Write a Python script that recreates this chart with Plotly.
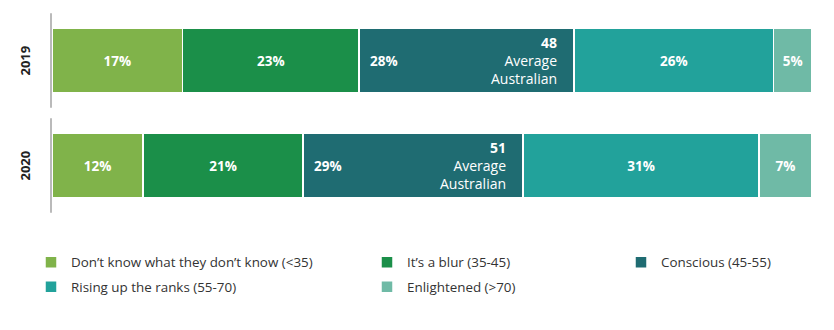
import plotly.graph_objects as go

years = ["2019", "2020"]
categories = [
    "Don’t know what they don’t know (<35)",
    "It’s a blur (35-45)",
    "Conscious (45-55)",
    "Rising up the ranks (55-70)",
    "Enlightened (>70)",
]
values = {
    "Don’t know what they don’t know (<35)": [17, 12],
    "It’s a blur (35-45)": [23, 21],
    "Conscious (45-55)": [28, 29],
    "Rising up the ranks (55-70)": [26, 31],
    "Enlightened (>70)": [5, 7],
}
avg_scores = [48, 51]
avg_label = "Average<br>Australian"

colors = ["#80b34a", "#1b8f49", "#1f6c72", "#22a29b", "#6fbaa6"]
legend_ids = ["legend", "legend2", "legend3", "legend", "legend2"]
FONT = "Open Sans"

fig = go.Figure()
for i, cat in enumerate(categories):
    is_conscious = (i == 2)
    fig.add_trace(go.Bar(
        y=years, x=values[cat], orientation="h", name=cat,
        marker=dict(color=colors[i], line=dict(color="white", width=1.5)),
        text=None if is_conscious else [f"<b>{v}%</b>" for v in values[cat]],
        textposition="inside", insidetextanchor="middle", textangle=0,
        textfont=dict(family=FONT, size=13.5, color="white"),
        constraintext="none",
        legend=legend_ids[i], legendgroup=cat,
        hoverinfo="skip",
    ))

annotations = []
for j, yr in enumerate(years):
    total = sum(values[c][j] for c in categories)
    start = sum(values[c][j] for c in categories[:2]) / total * 100
    end = start + values[categories[2]][j] / total * 100
    annotations.append(dict(
        x=start, y=j, xref="x", yref="y", xanchor="left", yanchor="middle",
        xshift=9, text=f"<b>{values[categories[2]][j]}%</b>", showarrow=False,
        font=dict(family=FONT, size=13.5, color="white"),
    ))
    annotations.append(dict(
        x=end, y=j, xref="x", yref="y", xanchor="right", yanchor="middle",
        xshift=-15, align="right",
        text=f"<b>{avg_scores[j]}</b><br>{avg_label}", showarrow=False,
        font=dict(family=FONT, size=14, color="white"),
    ))
    annotations.append(dict(
        x=0, y=j, xref="paper", yref="y", xanchor="center", yanchor="middle",
        xshift=-28, text=f"<b>{yr}</b>", textangle=-90, showarrow=False,
        font=dict(family=FONT, size=13, color="#222222"),
    ))

shapes = []
for j, yr in enumerate(years):
    shapes.append(dict(
        type="line", xref="paper", yref="y", xsizemode="pixel", xanchor=0,
        x0=-1, x1=-1, y0=j - 0.45, y1=j + 0.45,
        line=dict(color="#8c8c8c", width=1.2),
    ))

leg_common = dict(
    orientation="v", xref="container", yref="container", xanchor="left",
    yanchor="top", font=dict(family=FONT, size=13.4, color="#333333"),
    bgcolor="rgba(0,0,0,0)", tracegroupgap=4, traceorder="grouped",
)
ly = 1 - 247 / 330

fig.update_layout(
    width=834, height=330,
    margin=dict(l=52, r=22, t=8, b=112, autoexpand=False),
    barmode="stack", barnorm="percent", bargap=0.38,
    plot_bgcolor="white", paper_bgcolor="white",
    xaxis=dict(range=[0, 100], visible=False, fixedrange=True),
    yaxis=dict(type="category", categoryorder="array", categoryarray=years,
               range=[1.5, -0.5], visible=False, fixedrange=True),
    showlegend=True,
    legend=dict(x=31 / 834, y=ly, **leg_common),
    legend2=dict(x=367 / 834, y=ly, **leg_common),
    legend3=dict(x=621 / 834, y=ly, **leg_common),
    annotations=annotations, shapes=shapes,
    font=dict(family=FONT),
)

fig.write_html("out.html")
